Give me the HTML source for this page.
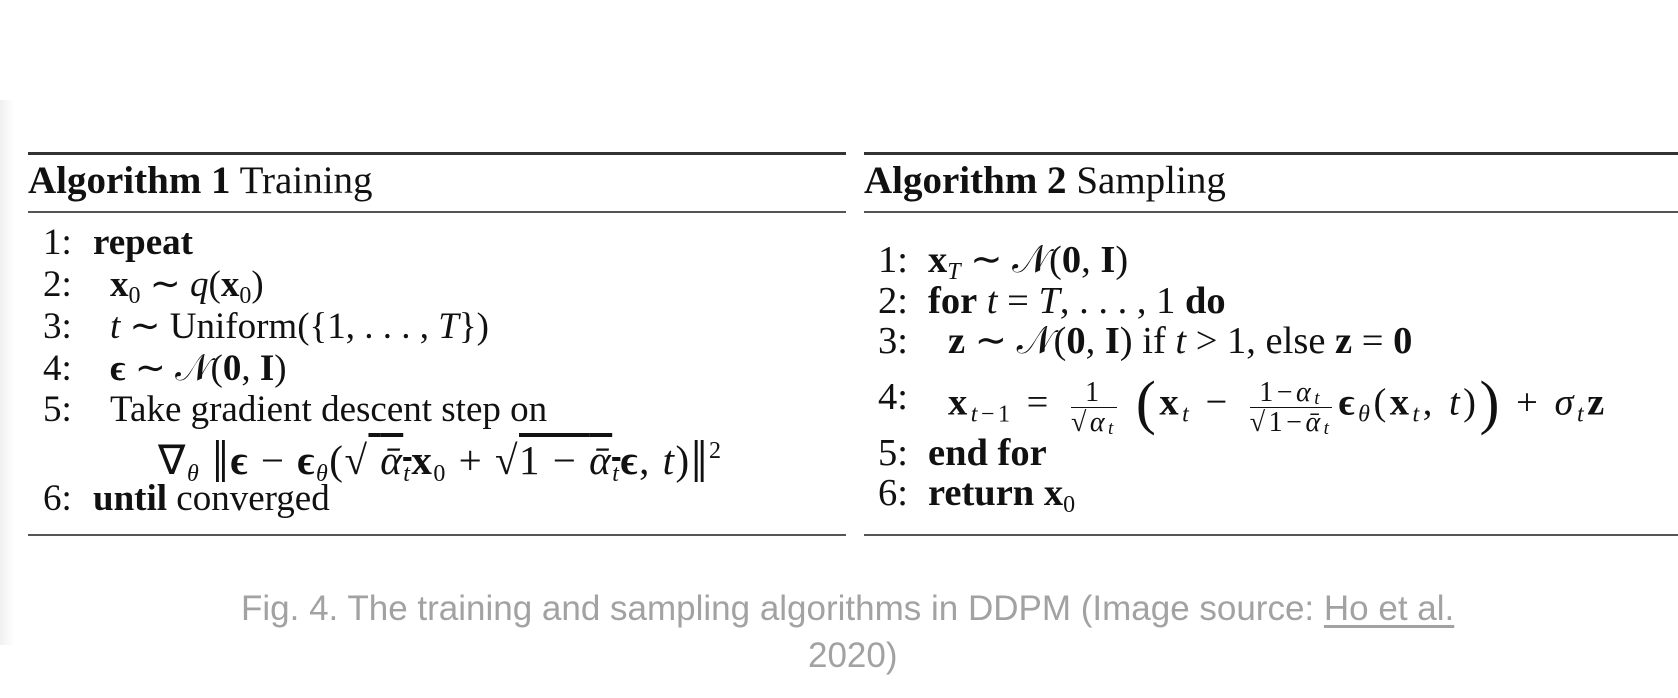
<!DOCTYPE html>
<html>
<head>
<meta charset="utf-8">
<style>
  html,body{margin:0;padding:0;background:#fff;}
  #page{position:relative;width:1678px;height:698px;overflow:hidden;background:#fff;font-family:"Liberation Serif",serif;color:#111;}
  .edge{position:absolute;left:0;top:100px;width:14px;height:545px;background:linear-gradient(to right,#f0f0f0,#fff);}
  .rule{position:absolute;background:#333;}
  .hdr{position:absolute;font-size:39px;line-height:1;white-space:nowrap;}
  .ln{position:absolute;font-size:37px;line-height:1;white-space:nowrap;}
  .r{font-size:38.5px;}
  b{font-weight:bold;}
  i{font-style:italic;}
  .bx{font-weight:bold;font-style:normal;}
  sub{font-size:24px;vertical-align:-7px;line-height:0;}
  sup{font-size:24px;vertical-align:16px;line-height:0;}
  .frac{display:inline-block;vertical-align:-17px;text-align:center;font-size:28px;line-height:1.05;margin:0 6px;}
  .frac span{display:block;}
  .frac .n{border-bottom:1.5px solid #111;padding:0 2px;}
  .frac sub{font-size:19px;vertical-align:-3px;}
  .big{font-size:60px;vertical-align:-8px;line-height:0;}
  .ov{text-decoration:overline;}
  .cap{position:absolute;font-family:"Liberation Sans",sans-serif;font-size:35px;color:#a2a2a2;white-space:nowrap;line-height:1;}
  .cap u{text-decoration:underline;text-underline-offset:5px;}
</style>
</head>
<body>
<div id="page">
  <div class="edge"></div>

  <!-- Algorithm 1 -->
  <div class="rule" style="left:28px;top:152px;width:818px;height:3px;"></div>
  <div class="hdr" style="left:28px;top:161px;"><b>Algorithm 1</b> Training</div>
  <div class="rule" style="left:28px;top:211px;width:818px;height:2px;background:#555;"></div>

  <div class="ln" style="top:224px;left:43px;">1:<span style="position:absolute;left:50px;"><b>repeat</b></span></div>
  <div class="ln" style="top:266px;left:43px;">2:<span style="position:absolute;left:67px;"><span class="bx">x</span><sub>0</sub> ∼ <i>q</i>(<span class="bx">x</span><sub>0</sub>)</span></div>
  <div class="ln" style="top:308px;left:43px;">3:<span style="position:absolute;left:67px;"><i>t</i> ∼ Uniform({1, . . . , <i>T</i>})</span></div>
  <div class="ln" style="top:350px;left:43px;">4:<span style="position:absolute;left:67px;"><b>ϵ</b> ∼ 𝒩(<b>0</b>, <b>I</b>)</span></div>
  <div class="ln" style="top:391px;left:43px;">5:<span style="position:absolute;left:67px;">Take gradient descent step on</span></div>
  <div class="ln" style="top:440px;left:158px;font-size:41px;letter-spacing:1.5px;">∇<sub><i>θ</i></sub> <span class="big">‖</span><b>ϵ</b> − <b>ϵ</b><sub><i>θ</i></sub>(√<span class="ov">&nbsp;<i>ᾱ</i><sub><i>t</i></sub></span><span class="bx">x</span><sub>0</sub> + √<span class="ov">1 − <i>ᾱ</i><sub><i>t</i></sub></span><b>ϵ</b>, <i>t</i>)<span class="big">‖</span><sup>2</sup></div>
  <div class="ln" style="top:480px;left:43px;">6:<span style="position:absolute;left:50px;"><b>until</b> converged</span></div>
  <div class="rule" style="left:28px;top:534px;width:818px;height:2px;background:#555;"></div>

  <!-- Algorithm 2 -->
  <div class="rule" style="left:864px;top:152px;width:814px;height:3px;"></div>
  <div class="hdr" style="left:864px;top:161px;"><b>Algorithm 2</b> Sampling</div>
  <div class="rule" style="left:864px;top:211px;width:814px;height:2px;background:#555;"></div>

  <div class="ln r" style="top:241px;left:878px;">1:<span style="position:absolute;left:50px;"><span class="bx">x</span><sub><i>T</i></sub> ∼ 𝒩(<b>0</b>, <b>I</b>)</span></div>
  <div class="ln r" style="top:282px;left:878px;">2:<span style="position:absolute;left:50px;"><b>for</b> <i>t</i> = <i>T</i>, . . . , 1 <b>do</b></span></div>
  <div class="ln r" style="top:322px;left:878px;">3:<span style="position:absolute;left:70px;"><b>z</b> ∼ 𝒩(<b>0</b>, <b>I</b>) if <i>t</i> &gt; 1, else <b>z</b> = <b>0</b></span></div>
  <div class="ln r" style="top:378px;left:878px;">4:<span style="position:absolute;left:70px;letter-spacing:3.5px;"><span class="bx">x</span><sub><i>t</i>−1</sub> = <span class="frac"><span class="n">1</span><span>√<i>α</i><sub><i>t</i></sub></span></span> <span class="big">(</span><span class="bx">x</span><sub><i>t</i></sub> − <span class="frac"><span class="n">1−<i>α</i><sub><i>t</i></sub></span><span>√1−<i>ᾱ</i><sub><i>t</i></sub></span></span><b>ϵ</b><sub><i>θ</i></sub>(<span class="bx">x</span><sub><i>t</i></sub>, <i>t</i>)<span class="big">)</span> + <i>σ</i><sub><i>t</i></sub><b>z</b></span></div>
  <div class="ln r" style="top:434px;left:878px;">5:<span style="position:absolute;left:50px;"><b>end for</b></span></div>
  <div class="ln r" style="top:474px;left:878px;">6:<span style="position:absolute;left:50px;"><b>return</b> <span class="bx">x</span><sub>0</sub></span></div>
  <div class="rule" style="left:864px;top:534px;width:814px;height:2px;background:#555;"></div>

  <!-- caption -->
  <div class="cap" style="left:241px;top:591px;">Fig. 4. The training and sampling algorithms in DDPM (Image source: <u>Ho et al.</u></div>
  <div class="cap" style="left:808px;top:638px;"><span>2020</span>)</div>
</div>
</body>
</html>
